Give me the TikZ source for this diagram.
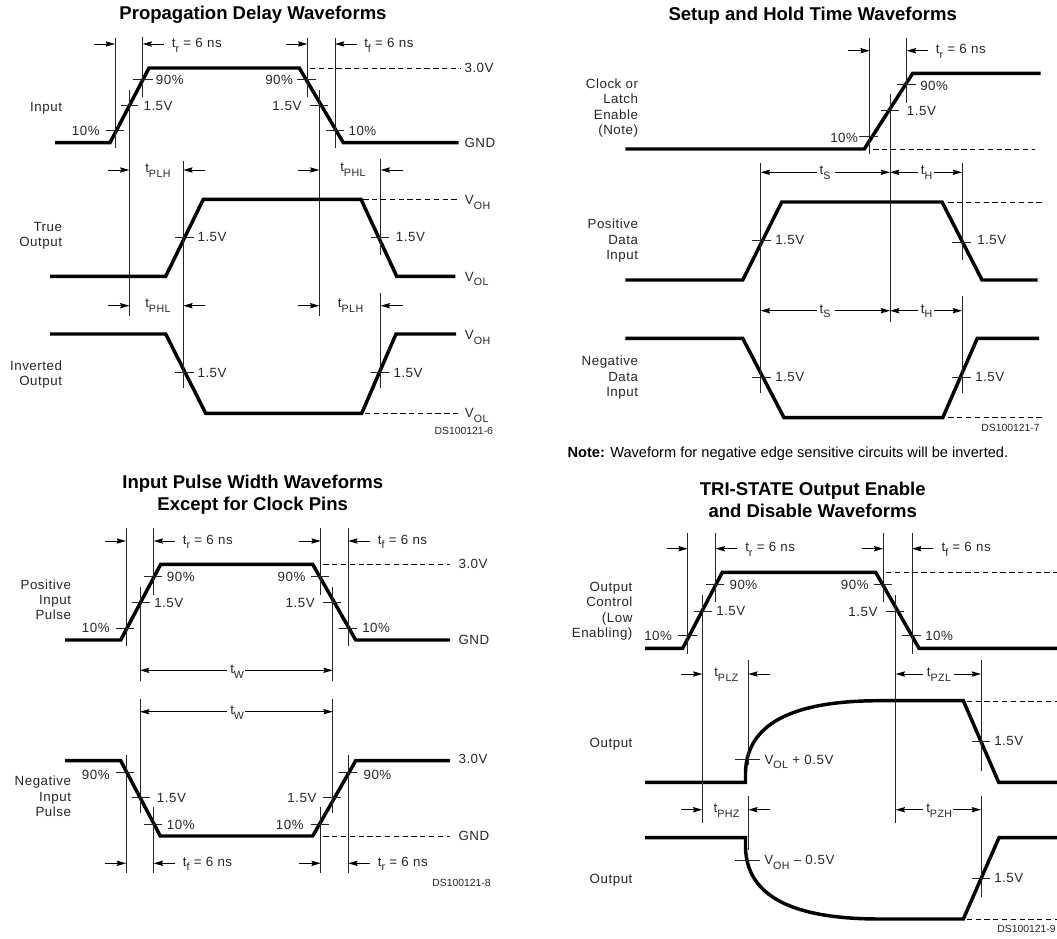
\documentclass[tikz,border=0pt]{standalone}
\usepackage{fontspec}
\setmainfont{Liberation Sans}
\newfontfamily\lblfont[LetterSpace=4]{Liberation Sans}
\usetikzlibrary{arrows.meta, positioning}
\newcommand{\sbs}[1]{\raisebox{-3.4pt}{\fontsize{8}{9}\selectfont #1}}
\tikzset{
	wave/.style={line width=2.6pt},
	guide/.style={line width=.75pt, black!85},
	tickln/.style={line width=.75pt, black!85},
	dashln/.style={line width=.7pt, dash pattern=on 4pt off 2.6pt},
	dimarr/.style={line width=.7pt, -{Stealth[length=7pt,width=4pt,inset=1pt]}},
	lbl/.style={anchor=west, inner sep=0pt, text height=7.2pt, text depth=0pt, font=\lblfont\fontsize{10}{11.5}\selectfont, black!85},
	lbr/.style={lbl, anchor=east},
	multi/.style={anchor=east, inner sep=0pt, align=right, font=\lblfont\fontsize{10}{11.5}\selectfont, black!85},
	ttl/.style={inner sep=0pt, align=center, font=\bfseries\fontsize{13.9}{16.6}\selectfont},
	dsno/.style={anchor=east, inner sep=0pt, font=\fontsize{7.8}{9}\selectfont, black!85}
}
\begin{document}
\begin{tikzpicture}[x=.75pt, y=-.75pt]
	\useasboundingbox (0,0) rectangle (1057,939);

	\node[ttl] (titleA) at (253,15) {Propagation Delay Waveforms};
	\draw[wave] (55,142.7) -- (110,142.7) -- (149,68) -- (299.3,68) -- (343.3,142.7) -- (458.7,142.7);
	\draw[wave] (50,276.3) -- (165.7,276.3) -- (203.3,199.3) -- (361,199.3) -- (396.7,276.3) -- (455.3,276.3);
	\draw[wave] (50,334) -- (165.7,334) -- (205.7,413.3) -- (361.7,413.3) -- (396,334) -- (456,334);
	\foreach \x/\ya/\yb in {115/38/148, 142.7/37/97, 129.3/90/316, 307.3/38/97, 335/38/148, 319.3/90/316, 183.3/161/388, 380.7/159/255, 380.7/293/388}
		\draw[guide] (\x,\ya) -- (\x,\yb);
	\foreach \xa/\xb/\y in {132.7/152.7/79.5, 297.3/316/79.5, 120.7/138.3/105.7, 310/328.3/105.7, 106/124/130.7, 326/344/130.7, 175/194/237, 371/389.3/237, 175/194/372.7, 371/389.3/372.7}
		\draw[tickln] (\xa,\y) -- (\xb,\y);
	\foreach \xa/\xb/\y in {94/115/44, 164/142.7/44, 286/307.3/44, 357/335/44, 108/129.3/170, 205/183.3/170, 298/319.3/170, 403/380.7/170, 108/129.3/305.7, 205/183.3/305.7, 298/319.3/305.7, 403/380.7/305.7}
		\draw[dimarr] (\xa,\y) -- (\xb,\y);
	\draw[dashln] (310,68) -- (460,68);
	\draw[dashln] (363.3,199.3) -- (460,199.3);
	\draw[dashln] (365,413.3) -- (461.7,413.3);
	\node[lbl] (aTr) at (171.7,42.7) {t\sbs{r} = 6 ns};
	\node[lbl] (aTf) at (364,42.7) {t\sbs{f} = 6 ns};
	\node[lbl] (aNineL) at (155.7,80) {90\%};
	\node[lbr] (aNineR) at (293.3,80) {90\%};
	\node[lbl] (aMidL) at (143.3,105.7) {1.5V};
	\node[lbr] (aMidR) at (301.7,105.7) {1.5V};
	\node[lbr] (aTenL) at (100,131) {10\%};
	\node[lbl] (aTenR) at (348.3,131) {10\%};
	\node[lbl] (aHigh) at (464.3,67.3) {3.0V};
	\node[lbl] (aGnd) at (464.3,143) {GND};
	\node[lbr] (aInput) at (62.3,106.7) {Input};
	\node[multi] (aTrue) at (62.3,236) {True\\Output};
	\node[multi] (aInv) at (62.3,374.3) {Inverted\\Output};
	\node[lbl] (aPlhA) at (145,168) {t\sbs{PLH}};
	\node[lbl] (aPhlA) at (340,167) {t\sbs{PHL}};
	\node[lbl] (aPhlB) at (145,303) {t\sbs{PHL}};
	\node[lbl] (aPlhB) at (337.7,303) {t\sbs{PLH}};
	\node[lbl] (aVohA) at (464.7,200) {V\sbs{OH}};
	\node[lbl] (aVolA) at (464.7,276.5) {V\sbs{OL}};
	\node[lbl] (aVohB) at (464.7,335) {V\sbs{OH}};
	\node[lbl] (aVolB) at (464.7,413) {V\sbs{OL}};
	\node[lbl] (aTrueL) at (197.3,237) {1.5V};
	\node[lbl] (aTrueR) at (395.7,237) {1.5V};
	\node[lbl] (aInvL) at (197.3,372.7) {1.5V};
	\node[lbl] (aInvR) at (393.3,372.7) {1.5V};
	\node[dsno] (aNo) at (493.3,431) {DS100121-6};

	\node[ttl] (titleB) at (812.7,15.7) {Setup and Hold Time Waveforms};
	\draw[wave] (625.3,149) -- (864.3,149) -- (912.7,73.3) -- (1040.7,73.3);
	\draw[wave] (625.3,280) -- (742.7,280) -- (781.7,202) -- (942,202) -- (982,280) -- (1037.7,280);
	\draw[wave] (625.3,338.3) -- (742.7,338.3) -- (784,417.7) -- (942.7,417.7) -- (977.3,338.3) -- (1039,338.3);
	\foreach \x/\ya/\yb in {869.7/38/154, 906.7/38/102.7, 890/94/321.7, 760.7/163/393, 962/163/260, 962/296/393}
		\draw[guide] (\x,\ya) -- (\x,\yb);
	\foreach \xa/\xb/\y in {896.7/915.7/84.7, 881/899.3/110, 859.3/877.7/136.7, 752.3/770.7/240.3, 952.3/970.7/242.3, 752.3/770.7/377.3, 952.3/970.7/377.3}
		\draw[tickln] (\xa,\y) -- (\xb,\y);
	\foreach \xa/\xb/\y in {848.3/869.7/50.7, 928.3/906.7/50.7, 816.7/760.7/172.3, 835/890/172.3, 918.3/890/172.3, 934/962/172.3, 816.7/760.7/310.7, 835/890/310.7, 918.3/890/310.7, 934/962/310.7}
		\draw[dimarr] (\xa,\y) -- (\xb,\y);
	\draw[dashln] (873.3,149) -- (1035,149);
	\draw[dashln] (948.3,202) -- (1041.7,202);
	\draw[dashln] (948.3,417.7) -- (1041.7,417.7);
	\node[lbl] (bTr) at (935.7,49) {t\sbs{r} = 6 ns};
	\node[lbl] (bNine) at (920,85.7) {90\%};
	\node[lbl] (bMid) at (906.7,111) {1.5V};
	\node[lbr] (bTen) at (858.3,137.3) {10\%};
	\node[multi] (bClock) at (638.3,108.2) {Clock or\\Latch\\Enable\\(Note)};
	\node[multi] (bPos) at (638.3,240.7) {Positive\\Data\\Input};
	\node[multi] (bNeg) at (638.3,377.7) {Negative\\Data\\Input};
	\node[lbl] (bTsA) at (819.3,170) {t\sbs{S}};
	\node[lbl] (bThA) at (920.7,170) {t\sbs{H}};
	\node[lbl] (bTsB) at (819.3,308.5) {t\sbs{S}};
	\node[lbl] (bThB) at (920.7,308.5) {t\sbs{H}};
	\node[lbl] (bPosL) at (775,240) {1.5V};
	\node[lbl] (bPosR) at (977,240) {1.5V};
	\node[lbl] (bNegL) at (775,377) {1.5V};
	\node[lbl] (bNegR) at (975,377) {1.5V};
	\node[dsno] (bNo) at (1040,428.3) {DS100121-7};
	\node[anchor=west, inner sep=0pt, font=\fontsize{10.95}{13}\selectfont] (bNote) at (567.3,453.3) {\textbf{Note:} Waveform for negative edge sensitive circuits will be inverted.};

	\node[ttl] (titleC) at (252.7,494.5) {Input Pulse Width Waveforms\\Except for Clock Pins};
	\draw[wave] (65,640) -- (120.7,640) -- (160.7,564.3) -- (312.7,564.3) -- (355.7,640) -- (450,640);
	\draw[wave] (65,760.7) -- (120.7,760.7) -- (160.3,836) -- (312.7,836) -- (355.7,760.7) -- (450,760.7);
	\foreach \x/\ya/\yb in {126/528.3/646, 153.7/528.3/595, 140/586.7/680.7, 140/699.3/813.3, 320.7/528.3/595, 348.3/528.3/646, 332.7/586.7/680.7, 332.7/699.3/813.3, 126/755/873.3, 153.7/806.7/873.3, 320.7/806.7/873.3, 348.3/755/873.3}
		\draw[guide] (\x,\ya) -- (\x,\yb);
	\foreach \xa/\xb/\y in {144/162.3/576.3, 310.7/329/576.3, 131.7/150/602.7, 322.7/341/602.7, 116/134.3/628, 339/357.3/628, 116/134.3/772.7, 339/357.3/772.7, 131.7/150/797.7, 322.7/341/797.7, 144/162.3/824, 310.7/329/824}
		\draw[tickln] (\xa,\y) -- (\xb,\y);
	\foreach \xa/\xb/\y in {105/126/541, 175/153.7/541, 299/320.7/541, 370/348.3/541, 105/126/863.3, 175/153.7/863.3, 299/320.7/863.3, 370/348.3/863.3, 226.7/140/670.3, 245/332.7/670.3, 226.7/140/711.7, 245/332.7/711.7}
		\draw[dimarr] (\xa,\y) -- (\xb,\y);
	\draw[dashln] (323.3,564.3) -- (450,564.3);
	\draw[dashln] (323.3,836) -- (450,836);
	\node[lbl] (cTrA) at (182.7,539.3) {t\sbs{r} = 6 ns};
	\node[lbl] (cTfA) at (377.7,539.3) {t\sbs{f} = 6 ns};
	\node[lbl] (cTfB) at (182.7,861.3) {t\sbs{f} = 6 ns};
	\node[lbl] (cTrB) at (377.7,861.3) {t\sbs{r} = 6 ns};
	\node[lbl] (cNineL) at (166.7,577) {90\%};
	\node[lbr] (cNineR) at (305.7,577) {90\%};
	\node[lbl] (cMidL) at (154,602.7) {1.5V};
	\node[lbr] (cMidR) at (315,602.7) {1.5V};
	\node[lbr] (cTenL) at (110,628) {10\%};
	\node[lbl] (cTenR) at (362,628) {10\%};
	\node[lbl] (cHighA) at (458.3,563.3) {3.0V};
	\node[lbl] (cGndA) at (458.3,640) {GND};
	\node[multi] (cPos) at (71.3,599.7) {Positive\\Input\\Pulse};
	\node[lbl] (cTwA) at (230,669) {t\sbs{W}};
	\node[lbl] (cTwB) at (230,710) {t\sbs{W}};
	\node[lbr] (cNineC) at (110,774.3) {90\%};
	\node[lbl] (cNineD) at (363.3,774.3) {90\%};
	\node[lbl] (cMidC) at (156.7,797.7) {1.5V};
	\node[lbr] (cMidD) at (316.7,797.7) {1.5V};
	\node[lbl] (cTenC) at (166.7,825) {10\%};
	\node[lbr] (cTenD) at (304,825) {10\%};
	\node[lbl] (cHighB) at (458.3,759) {3.0V};
	\node[lbl] (cGndB) at (458.3,835.7) {GND};
	\node[multi] (cNeg) at (71.3,796.3) {Negative\\Input\\Pulse};
	\node[dsno] (cNo) at (491,883) {DS100121-8};

	\node[ttl] (titleD) at (812.7,499.8) {TRI-STATE Output Enable\\and Disable Waveforms};
	\draw[wave] (645,648.3) -- (682.7,648.3) -- (722.3,572.3) -- (875.7,572.3) -- (919,648.3) -- (1057,648.3);
	\draw[wave] (645,782.3) -- (745.5,782.3) -- (745.5,772) .. controls (747,725) and (790,700.7) .. (880,700.7) -- (963.3,700.7) -- (998.7,782.3) -- (1057,782.3);
	\draw[wave] (645,837.7) -- (745.5,837.7) -- (745.5,848) .. controls (747,895) and (790,919) .. (880,919) -- (963.3,919) -- (999,837.7) -- (1057,837.7);
	\foreach \x/\ya/\yb in {687.7/533.3/654, 715.7/533.3/602.3, 702.3/595/823.3, 883.3/533.3/602.3, 912/533.3/654, 895.7/595/823.3, 748.3/660/765, 748.3/795.7/850, 981/660/771, 981/795.7/896.7}
		\draw[guide] (\x,\ya) -- (\x,\yb);
	\foreach \xa/\xb/\y in {706/724.3/584.3, 874/892.3/584.3, 694/712.3/611, 886/904.3/611, 678.3/696.7/635.7, 902.3/920.7/635.7, 735/760/759.7, 735/760/860, 971.7/990/741.7, 971.7/990/878}
		\draw[tickln] (\xa,\y) -- (\xb,\y);
	\foreach \xa/\xb/\y in {666.7/687.7/548.7, 736.7/715.7/548.7, 861.7/883.3/548.7, 933.3/912/548.7, 681/702.3/674, 770/748.3/674, 923.3/895.7/674, 954.3/981/674, 681/702.3/809.7, 770/748.3/809.7, 922.7/895.7/809.7, 952.7/981/809.7}
		\draw[dimarr] (\xa,\y) -- (\xb,\y);
	\draw[dashln] (886,572.3) -- (1057,572.3);
	\draw[dashln] (966.7,701.3) -- (1057,701.3);
	\draw[dashln] (966.7,919.3) -- (1057,919.3);
	\node[lbl] (dTr) at (745,546.7) {t\sbs{r} = 6 ns};
	\node[lbl] (dTf) at (941.3,546.7) {t\sbs{f} = 6 ns};
	\node[lbl] (dNineL) at (729.3,585) {90\%};
	\node[lbr] (dNineR) at (869,585) {90\%};
	\node[lbl] (dMidL) at (716,611) {1.5V};
	\node[lbr] (dMidR) at (877.7,612) {1.5V};
	\node[lbr] (dTenL) at (672.3,636) {10\%};
	\node[lbl] (dTenR) at (925,636) {10\%};
	\node[multi] (dCtrl) at (632.7,611.2) {Output\\Control\\(Low\\Enabling)};
	\node[lbr] (dOutA) at (632.7,742.7) {Output};
	\node[lbr] (dOutB) at (632.7,879) {Output};
	\node[lbl] (dPlz) at (714,672) {t\sbs{PLZ}};
	\node[lbl] (dPzl) at (926.7,672) {t\sbs{PZL}};
	\node[lbl] (dPhz) at (713.3,808) {t\sbs{PHZ}};
	\node[lbl] (dPzh) at (926,808) {t\sbs{PZH}};
	\node[lbl] (dVol) at (764.3,759.3) {V\sbs{OL} + 0.5V};
	\node[lbl] (dVoh) at (764,860) {V\sbs{OH} – 0.5V};
	\node[lbl] (dMidA) at (994,741) {1.5V};
	\node[lbl] (dMidB) at (994,878) {1.5V};
	\node[dsno] (dNo) at (1056,929.3) {DS100121-9};
\end{tikzpicture}
\end{document}
